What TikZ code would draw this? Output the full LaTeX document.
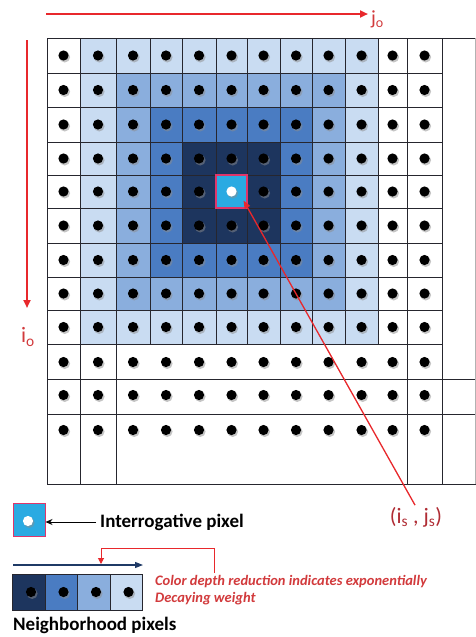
\documentclass[tikz,border=0pt]{standalone}
\usepackage{fontspec}
\setmainfont{Carlito}
\usetikzlibrary{arrows.meta,calc}
\definecolor{lvl0}{HTML}{2AAAE2}
\definecolor{lvl1}{HTML}{1D355E}
\definecolor{lvl2}{HTML}{4A7CC2}
\definecolor{lvl3}{HTML}{8AAEDD}
\definecolor{lvl4}{HTML}{C9DCF2}
\definecolor{lvl5}{HTML}{FFFFFF}
\definecolor{gridc}{HTML}{26262E}
\definecolor{arrred}{HTML}{E8282C}
\definecolor{lblred}{HTML}{D23A3C}
\definecolor{darkred}{HTML}{B02C34}
\definecolor{pxborder}{HTML}{E0356A}
\definecolor{navyarr}{HTML}{1F3A66}
\tikzset{
  gridline/.style={draw=gridc, line width=1pt},
  dotshadow/.style={fill=black!45, opacity=0.5},
  redarrow/.style={draw=arrred, line width=2pt, -{Triangle[length=8pt,width=7pt]}},
  pixbox/.style={draw=pxborder, fill=lvl0, line width=1.2pt, inner sep=0pt},
  nbcell/.style={draw=gridc, line width=0.8pt, minimum width=32.5pt, minimum height=36pt, inner sep=0pt},
  boldlbl/.style={font=\bfseries\fontsize{19}{22}\selectfont, inner sep=0pt, anchor=west},
}
\newcommand{\pdot}[3]{%
  \fill[dotshadow] ($(#1,#2)+(1.2,1.6)$) circle (5.4);
  \fill[#3] (#1,#2) circle (5.1);}
\begin{document}
\begin{tikzpicture}[x=1pt,y=-1pt]
\useasboundingbox (0,0) rectangle (476,637);
\fill[white] (0,0) rectangle (476,637);
\def\xs{{47,80,116,150,182,216,247,280,312,345,378,407,442,476}}
\def\ys{{38,73,107,142,175,208,243,277,310,344,379,414,484}}
% cell fills
\foreach \ri in {1,...,9}{
  \foreach \ci in {1,...,12}{
    \pgfmathtruncatemacro\lv{min(5,max(abs(\ri-5),abs(\ci-6)))}
    \pgfmathsetmacro\xa{\xs[\ci-1]}
    \pgfmathsetmacro\xb{\xs[\ci]}
    \pgfmathsetmacro\ya{\ys[\ri-1]}
    \pgfmathsetmacro\yb{\ys[\ri]}
    \fill[lvl\lv] (\xa,\ya) rectangle (\xb,\yb);
  }
}
% grid lines, upper block
\foreach \ri in {0,...,9}{
  \pgfmathsetmacro\ya{\ys[\ri]}
  \draw[gridline] (47,\ya) -- (442,\ya);
}
\foreach \ci in {0,...,12}{
  \pgfmathsetmacro\xa{\xs[\ci]}
  \draw[gridline] (\xa,38) -- (\xa,344);
}
\draw[gridline] (442,38) -- (476,38);
% lower block
\foreach \yy in {379,414,484}{
  \draw[gridline] (47,\yy) -- (476,\yy);
}
\foreach \xx in {47,80,116,407,442}{
  \draw[gridline] (\xx,344) -- (\xx,484);
}
\draw[draw=gray!60, line width=0.8pt] (475.5,38) -- (475.5,484);
% dots, upper block
\foreach \ri in {1,...,9}{
  \foreach \ci in {1,...,12}{
    \pgfmathsetmacro\xa{\xs[\ci-1]}
    \pgfmathsetmacro\xb{\xs[\ci]}
    \pgfmathsetmacro\ya{\ys[\ri-1]}
    \pgfmathsetmacro\yb{\ys[\ri]}
    \pgfmathsetmacro\xc{(\xa+\xb)/2}
    \pgfmathsetmacro\yc{(\ya+\yb)/2}
    \pgfmathtruncatemacro\isc{and(\ri==5,\ci==6)}
    \ifnum\isc=0 \pdot{\xc}{\yc}{black}\fi
  }
}
% dots, lower block
\foreach \yc in {362,395,430}{
  \foreach \ci in {1,...,12}{
    \pgfmathsetmacro\xa{\xs[\ci-1]}
    \pgfmathsetmacro\xb{\xs[\ci]}
    \pgfmathsetmacro\xc{(\xa+\xb)/2}
    \pdot{\xc}{\yc}{black}
  }
}
% interrogative pixel in grid
\node[pixbox, minimum width=31pt, minimum height=33pt] (ctr) at (231.5,191.5) {};
\pdot{231.5}{191.5}{white}
% axes
\coordinate (jstart) at (46,14);
\node[text=lblred, font=\fontsize{20}{24}\selectfont, anchor=west, inner sep=0pt] (jo) at (371,19) {j\textsubscript{o}};
\draw[redarrow, shorten >=3pt] (jstart) -- (jstart -| jo.west);
\coordinate (istart) at (27,40);
\node[text=lblred, font=\fontsize{22}{26}\selectfont, inner sep=0pt] (io) at (28,337) {i\textsubscript{o}};
\coordinate (iend) at (27,308);
\draw[redarrow] (istart) -- (iend);
% (is, js) label and connector
\node[text=darkred, font=\fontsize{22}{26}\selectfont, inner sep=0pt] (isjs) at (416,517) {(i\textsubscript{s} , j\textsubscript{s})};
\draw[draw=arrred, line width=1.3pt, -{Triangle[length=8pt,width=6pt]}, shorten <=2pt] (isjs.north) -- ($(ctr.center)+(12,9)$);
% legend: interrogative pixel
\node[pixbox, minimum width=32pt, minimum height=33pt, line width=1pt] (ip) at (29,520) {};
\pdot{28}{521}{white}
\node[boldlbl] (iptxt) at (100,522) {Interrogative pixel};
\draw[line width=1pt, -{Stealth[length=7pt,width=6pt]}, shorten <=4pt] (iptxt.west) -- (iptxt.west -| ip.east);
% legend: neighborhood strip
\node[nbcell, fill=lvl1] (nb1) at (29,592) {};
\node[nbcell, fill=lvl2] (nb2) at (61.5,592) {};
\node[nbcell, fill=lvl3] (nb3) at (94,592) {};
\node[nbcell, fill=lvl4] (nb4) at (126.5,592) {};
\foreach \n in {nb1,nb2,nb3,nb4}{
  \path (\n.center) ++(2,0) coordinate (dd);
  \fill[dotshadow] ($(dd)+(1.2,1.6)$) circle (5.4);
  \fill[black] (dd) circle (5.1);
}
\coordinate (na) at (13,565);
\coordinate (nz) at (143,565);
\draw[draw=navyarr, line width=1.3pt, -{Triangle[length=8pt,width=6pt]}] (na) -- (nz);
\node[anchor=north west, align=left, text=lblred, font=\itshape\bfseries\fontsize{14.5}{17.5}\selectfont, inner sep=0pt] (cd) at (155,575) {Color depth reduction indicates exponentially\\Decaying weight};
\coordinate (cdtop) at (214,573);
\coordinate (brtip) at (101,564);
\draw[draw=arrred, line width=1pt, -{Triangle[length=6pt,width=6pt]}] (cdtop) -- ++(0,-25) -| (brtip);
\node[boldlbl] (nbtxt) at (13,625) {Neighborhood pixels};
\end{tikzpicture}
\end{document}
